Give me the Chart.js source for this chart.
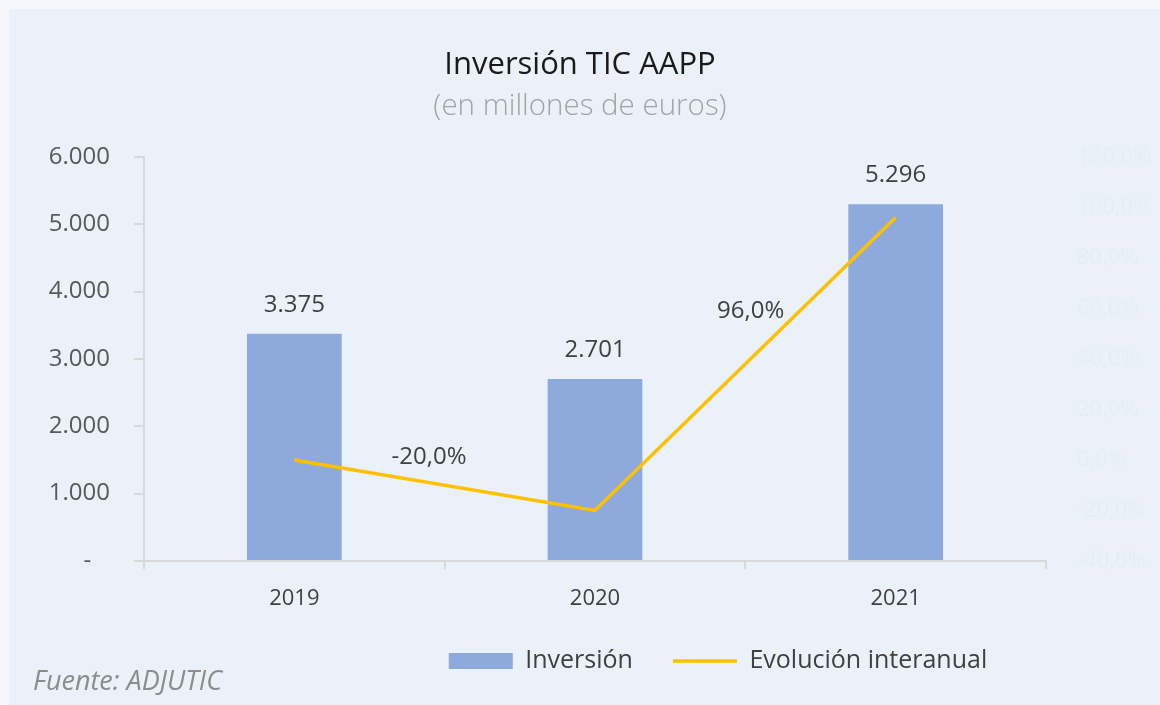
<!DOCTYPE html>
<html lang="es">
<head>
<meta charset="utf-8">
<title>Inversión TIC AAPP</title>
<script src="https://cdn.jsdelivr.net/npm/chart.js@4.4.1/dist/chart.umd.min.js"></script>
<style>
  html, body { margin: 0; padding: 0; }
  body { width: 1160px; height: 705px; background: #f6f7f9; position: relative; overflow: hidden; }
  #panel { position: absolute; left: 9px; top: 9px; right: 0; bottom: 0; background: #eaf1f9; }
  #wrap { position: absolute; left: 0; top: 0; width: 1160px; height: 705px; }
</style>
</head>
<body>
<div id="panel"></div>
<div id="wrap"><canvas id="c" width="1160" height="705"></canvas></div>
<script>
// ---- data ----
const categories = ['2019', '2020', '2021'];
const inversion = [3375, 2701, 5296];
const evolucion = [0, -20, 96];
const evolucionShowLabel = [false, true, true];
const yTickValues = [0, 1000, 2000, 3000, 4000, 5000, 6000];
const y1TickValues = [-40, -20, 0, 20, 40, 60, 80, 100, 120];

const FONT = "'Open Sans', 'Noto Sans', sans-serif";
const BAR_COLOR = '#8eaadc';
const LINE_COLOR = '#ffc000';
const AXIS_COLOR = '#d9d9d9';

function fmtThousands(n) {
  return String(n).replace(/\B(?=(\d{3})+(?!\d))/g, '.');
}
function fmtPct(v) {
  return v.toFixed(1).replace('.', ',') + '%';
}

// label offsets (pixels) relative to the line point, as placed in the original
const lineLabelOffsets = [null, {dx: -166, dy: -53}, {dx: -145, dy: 94}];

const valueLabels = {
  id: 'valueLabels',
  afterDatasetsDraw(chart) {
    const ctx = chart.ctx;
    ctx.save();
    ctx.font = '24px ' + FONT;
    ctx.fillStyle = '#404040';
    ctx.textAlign = 'center';
    ctx.textBaseline = 'middle';
    const barMeta = chart.getDatasetMeta(0);
    barMeta.data.forEach((el, i) => {
      ctx.fillText(fmtThousands(inversion[i]), el.x, el.y - 29);
    });
    const lineMeta = chart.getDatasetMeta(1);
    lineMeta.data.forEach((el, i) => {
      if (!evolucionShowLabel[i]) return;
      const o = lineLabelOffsets[i];
      ctx.fillText(fmtPct(evolucion[i]), el.x + o.dx, el.y + o.dy);
    });
    ctx.restore();
  }
};

const sourceNote = {
  id: 'sourceNote',
  afterDraw(chart) {
    const ctx = chart.ctx;
    ctx.save();
    ctx.font = 'italic 27px ' + FONT;
    ctx.fillStyle = '#8c8c8c';
    ctx.textAlign = 'left';
    ctx.textBaseline = 'middle';
    ctx.fillText('Fuente: ADJUTIC', 33, 682);
    ctx.restore();
  }
};

const legendShift = {
  id: 'legendShift',
  afterLayout(chart) {
    const l = chart.legend;
    if (!l) return;
    const dx = 718 - (l.left + l.right) / 2;
    l.left += dx;
    l.right += dx;
  }
};

new Chart(document.getElementById('c'), {
  type: 'bar',
  data: {
    labels: categories,
    datasets: [
      {
        type: 'bar',
        label: 'Inversión',
        data: inversion,
        backgroundColor: BAR_COLOR,
        borderWidth: 0,
        categoryPercentage: 1,
        barPercentage: 0.315,
        pointStyle: 'rect',
        yAxisID: 'y',
        order: 2
      },
      {
        type: 'line',
        label: 'Evolución interanual',
        data: evolucion,
        borderColor: LINE_COLOR,
        backgroundColor: LINE_COLOR,
        borderWidth: 3.5,
        pointRadius: 0,
        pointHoverRadius: 0,
        pointStyle: 'line',
        tension: 0,
        yAxisID: 'y1',
        order: 1
      }
    ]
  },
  options: {
    responsive: false,
    animation: false,
    layout: { padding: { left: 0, right: 0, top: 0, bottom: 21.5 } },
    plugins: {
      tooltip: { enabled: false },
      title: {
        display: true,
        text: 'Inversión TIC AAPP',
        color: '#1a1a1a',
        font: { family: FONT, size: 31, weight: 'normal', lineHeight: 1.2 },
        padding: { top: 47, bottom: 0 }
      },
      subtitle: {
        display: true,
        text: '(en millones de euros)',
        color: '#a3a3a3',
        font: { family: FONT, size: 29.5, weight: 300, lineHeight: 1.2 },
        padding: { top: 5, bottom: 32.3 }
      },
      legend: {
        display: true,
        position: 'bottom',
        align: 'center',
        labels: {
          usePointStyle: true,
          pointStyleWidth: 64,
          boxHeight: 16,
          padding: 40,
          color: '#404040',
          font: { family: FONT, size: 25 },
          sort: (a, b) => a.datasetIndex - b.datasetIndex
        }
      }
    },
    scales: {
      x: {
        offset: true,
        border: { display: true, color: AXIS_COLOR, width: 2 },
        grid: { display: true, offset: true, drawOnChartArea: false, drawTicks: true, tickLength: 8, color: AXIS_COLOR, lineWidth: 2 },
        ticks: { color: '#404040', font: { family: FONT, size: 22 }, padding: 17 },
        afterFit(scale) { scale.height = 47.5; }
      },
      y: {
        position: 'left',
        min: 0,
        max: 6000,
        afterBuildTicks(scale) { scale.ticks = yTickValues.map(v => ({ value: v })); },
        border: { display: true, color: AXIS_COLOR, width: 2 },
        grid: { display: true, drawOnChartArea: false, drawTicks: true, tickLength: 10, color: AXIS_COLOR, lineWidth: 2 },
        ticks: {
          color: '#595959',
          font: { family: FONT, size: 24 },
          padding: 24,
          callback: (v) => v === 0 ? '-   ' : fmtThousands(v)
        },
        afterFit(scale) { scale.width = 144; }
      },
      y1: {
        position: 'right',
        min: -40,
        max: 120,
        afterBuildTicks(scale) { scale.ticks = y1TickValues.map(v => ({ value: v })); },
        border: { display: false },
        grid: { display: false, drawOnChartArea: false, drawTicks: false },
        ticks: {
          color: '#e5edf6',
          font: { family: FONT, size: 22 },
          padding: 31,
          callback: (v) => fmtPct(v)
        },
        afterFit(scale) { scale.width = 114; }
      }
    }
  },
  plugins: [valueLabels, sourceNote, legendShift]
});
</script>
</body>
</html>
